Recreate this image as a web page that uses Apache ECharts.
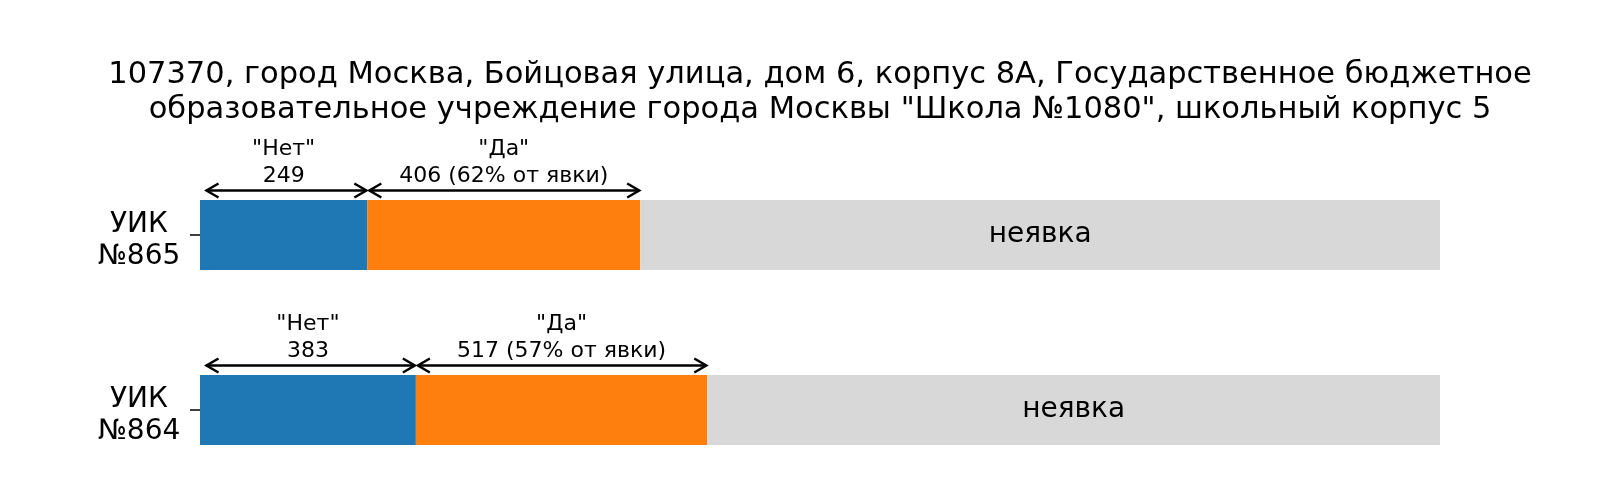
<!DOCTYPE html>
<html>
<head>
<meta charset="utf-8">
<script src="https://cdn.jsdelivr.net/npm/echarts@6/dist/echarts.min.js"></script>
<style>
html,body{margin:0;padding:0;background:#fff;}
#chart{width:1600px;height:480px;}
</style>
</head>
<body>
<div id="chart"></div>
<script>
// ---- data ----
const titleText = '107370, город Москва, Бойцовая улица, дом 6, корпус 8А, Государственное бюджетное\nобразовательное учреждение города Москвы "Школа №1080", школьный корпус 5';
const categories = ['УИК\n№865', 'УИК\n№864'];
const noVotes = [249, 383];
const yesVotes = [406, 517];
const registered = [1845, 2200];
const seriesNames = ['"Нет"', '"Да"', 'неявка'];
const absentLabel = 'неявка';

// ---- derived ----
const noFrac = noVotes.map((v, i) => v / registered[i]);
const yesFrac = yesVotes.map((v, i) => v / registered[i]);
const absFrac = registered.map((r, i) => (r - noVotes[i] - yesVotes[i]) / r);

const annData = [];
const annLines = [];
categories.forEach((c, i) => {
  annData.push([0, noFrac[i], i]);
  annLines.push([seriesNames[0], String(noVotes[i])]);
  const pct = Math.round(yesVotes[i] / (yesVotes[i] + noVotes[i]) * 100);
  annData.push([noFrac[i], noFrac[i] + yesFrac[i], i]);
  annLines.push([seriesNames[1], yesVotes[i] + ' (' + pct + '% от явки)']);
});

const FONT = "'DejaVu Sans', sans-serif";

function renderAnn(params, api) {
  const x0 = api.value(0), x1 = api.value(1), cat = api.value(2);
  const p0 = api.coord([x0, cat]);
  const p1 = api.coord([x1, cat]);
  const y = p0[1] - 44.5;
  const l = p0[0] + (x0 === 0 ? 6.5 : 2);
  const r = p1[0] - 1;
  const hl = 12, hw = 7;
  const lines = annLines[params.dataIndex];
  const cx = (p0[0] + p1[0]) / 2;
  const stroke = { stroke: '#000', lineWidth: 2.5, fill: null, lineJoin: 'miter' };
  return {
    type: 'group',
    children: [
      { type: 'line', shape: { x1: l, y1: y, x2: r, y2: y }, style: stroke },
      { type: 'polyline', shape: { points: [[l + hl, y - hw], [l, y], [l + hl, y + hw]] }, style: stroke },
      { type: 'polyline', shape: { points: [[r - hl, y - hw], [r, y], [r - hl, y + hw]] }, style: stroke },
      { type: 'text', style: { x: cx, y: p0[1] - 85.8, text: lines[0], fill: '#000', font: '22px ' + FONT, align: 'center', verticalAlign: 'middle' } },
      { type: 'text', style: { x: cx, y: p0[1] - 59, text: lines[1], fill: '#000', font: '22px ' + FONT, align: 'center', verticalAlign: 'middle' } }
    ]
  };
}

const chart = echarts.init(document.getElementById('chart'), null, { renderer: 'canvas' });
chart.setOption({
  animation: false,
  backgroundColor: '#fff',
  title: {
    text: titleText,
    left: 815,
    top: 52,
    textAlign: 'center',
    textStyle: { fontFamily: FONT, fontSize: 30.5, fontWeight: 'normal', color: '#000', lineHeight: 35.5 }
  },
  grid: { left: 200, width: 1240, top: 235, height: 175, containLabel: false },
  xAxis: {
    type: 'value', min: 0, max: 1, show: false
  },
  yAxis: {
    type: 'category',
    data: categories,
    inverse: true,
    boundaryGap: false,
    axisLine: { show: false },
    axisTick: { show: true, length: 10, lineStyle: { color: '#000', width: 1.5 } },
    splitLine: { show: false },
    axisLabel: {
      align: 'center', margin: 61,
      formatter: function (v) {
        return '{s| }\n' + v.split('\n').map(t => '{a|' + t + '}').join('\n');
      },
      rich: {
        s: { fontSize: 4, lineHeight: 12 },
        a: { fontFamily: FONT, fontSize: 28, color: '#000', lineHeight: 32 }
      }
    }
  },
  series: [
    {
      name: seriesNames[0], type: 'bar', stack: 'total', barWidth: 70,
      itemStyle: { color: '#1f77b4' }, data: noFrac, silent: true
    },
    {
      name: seriesNames[1], type: 'bar', stack: 'total', barWidth: 70,
      itemStyle: { color: '#ff7f0e' }, data: yesFrac, silent: true
    },
    {
      name: seriesNames[2], type: 'bar', stack: 'total', barWidth: 70,
      itemStyle: { color: '#d8d8d8' }, data: absFrac, silent: true,
      label: {
        show: true, position: 'inside', formatter: absentLabel,
        fontFamily: FONT, fontSize: 28, color: '#000'
      }
    },
    {
      type: 'custom', renderItem: renderAnn, data: annData, clip: false, silent: true,
      encode: { x: [0, 1], y: 2 }, z: 10
    }
  ]
});
</script>
</body>
</html>
